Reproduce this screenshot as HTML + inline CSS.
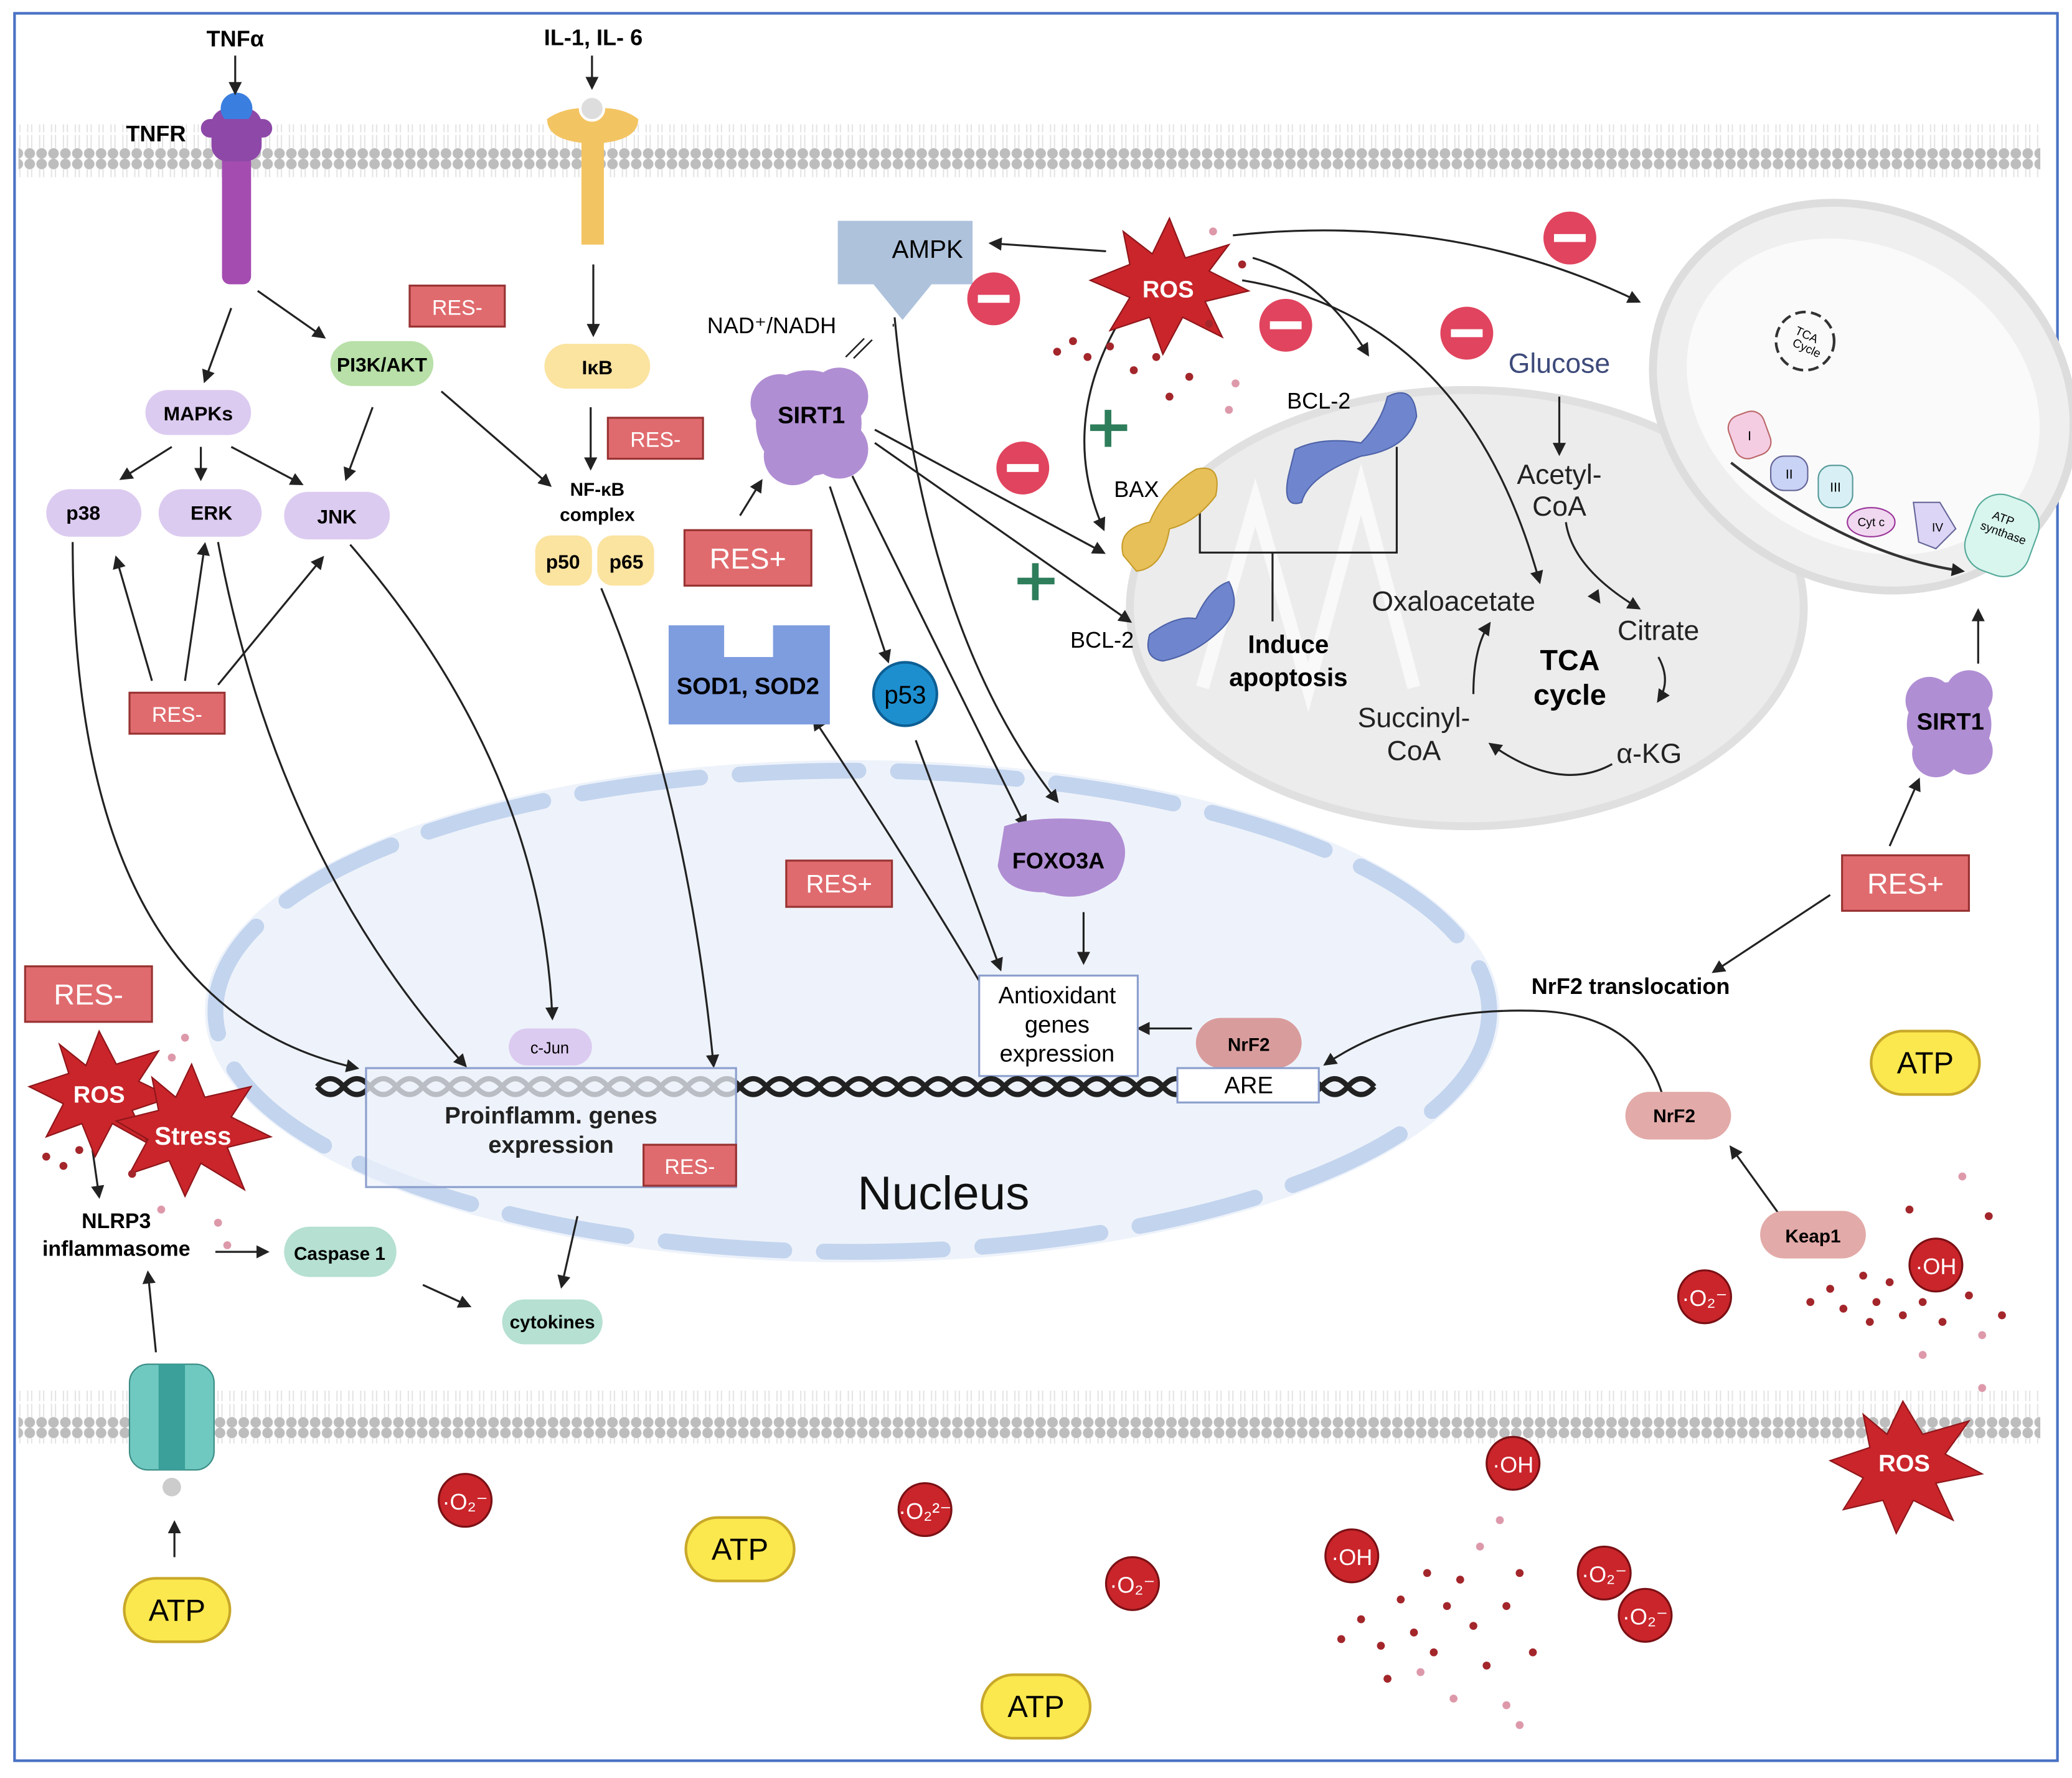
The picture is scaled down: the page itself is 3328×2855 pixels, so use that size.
<!DOCTYPE html>
<html><head><meta charset="utf-8"><style>
html,body{margin:0;padding:0;background:#fff}
svg{display:block}
text{font-family:"Liberation Sans",sans-serif}
</style></head><body>
<svg width="3328" height="2855" viewBox="0 0 1568 1345" xmlns="http://www.w3.org/2000/svg">
<defs>
<marker id="a" markerWidth="10" markerHeight="10" refX="8" refY="5" orient="auto" markerUnits="userSpaceOnUse"><path d="M0,0 L10,5 L0,10 z" fill="#222"/></marker>
<pattern id="mem" width="9" height="40" patternUnits="userSpaceOnUse"><circle cx="4.5" cy="4" r="4" fill="#bdbdbd"/><circle cx="4.5" cy="36" r="4" fill="#bdbdbd"/><path d="M3,8 L3,20 M6,8 L6,20 M3,22 L3,32 M6,22 L6,32" stroke="#e4e4e4" stroke-width="1"/></pattern>
</defs>
<rect width="1568" height="1345" fill="#fff"/>
<rect x="11" y="10" width="1546" height="1322" fill="none" stroke="#4a72c4" stroke-width="2"/>
<!-- membranes -->
<rect x="14" y="94" width="1530" height="40" fill="url(#mem)"/>
<rect x="14" y="1052" width="1530" height="40" fill="url(#mem)"/>
<!-- nucleus -->
<ellipse cx="645" cy="765" rx="490" ry="190" fill="#eef3fb"/>
<ellipse cx="645" cy="765" rx="482" ry="182" fill="none" stroke="#c3d4ee" stroke-width="12" stroke-dasharray="90,30" stroke-linecap="round"/>
<text x="714" y="915" font-size="36" text-anchor="middle" fill="#111">Nucleus</text>
<!-- mitochondria -->
<ellipse cx="1110" cy="460" rx="255" ry="165" fill="#ececec" stroke="#e0e0e0" stroke-width="6"/>
<path d="M910,520 L950,380 L990,520 L1030,370 L1070,520" fill="none" stroke="#fff" stroke-width="10" opacity="0.7"/>
<ellipse cx="1410" cy="300" rx="165" ry="140" fill="#efefef" stroke="#ddd" stroke-width="6" transform="rotate(30 1410 300)"/>
<ellipse cx="1410" cy="300" rx="140" ry="112" fill="#fafafa" transform="rotate(30 1410 300)"/>
<circle cx="1366" cy="258" r="22" fill="none" stroke="#333" stroke-width="2" stroke-dasharray="8,4"/>
<text x="1366" y="256" font-size="9" text-anchor="middle" transform="rotate(25 1366 256)">TCA</text><text x="1366" y="266" font-size="9" text-anchor="middle" transform="rotate(25 1366 266)">Cycle</text>
<path d="M1310,350 Q1400,420 1485,432" fill="none" stroke="#333" stroke-width="2" marker-end="url(#a)"/>
<rect x="1310" y="312" width="28" height="34" rx="10" fill="#f4cde3" stroke="#b66" transform="rotate(-20 1324 329)"/><text x="1324" y="333" font-size="10" text-anchor="middle">I</text>
<rect x="1340" y="345" width="28" height="26" rx="10" fill="#c9d3f5" stroke="#669"/><text x="1354" y="362" font-size="10" text-anchor="middle">II</text>
<rect x="1376" y="352" width="26" height="32" rx="10" fill="#d8f0f5" stroke="#599"/><text x="1389" y="372" font-size="10" text-anchor="middle">III</text>
<ellipse cx="1416" cy="395" rx="18" ry="11" fill="#f0d8f0" stroke="#939"/><text x="1416" y="398" font-size="9" text-anchor="middle">Cyt c</text>
<path d="M1448,380 L1468,380 L1480,400 L1465,415 L1452,410 z" fill="#dcd5f5" stroke="#669"/><text x="1462" y="402" font-size="9">IV</text>
<rect x="1490" y="375" width="50" height="60" rx="20" fill="#d8f5ee" stroke="#5a9" transform="rotate(20 1515 405)"/><text x="1515" y="395" font-size="9" text-anchor="middle" transform="rotate(20 1515 395)">ATP</text><text x="1515" y="406" font-size="9" text-anchor="middle" transform="rotate(20 1515 406)">synthase</text>
<!-- TNFR receptor -->
<g>
<rect x="168" y="100" width="22" height="115" rx="6" fill="#a44cb0"/>
<rect x="160" y="82" width="38" height="40" rx="12" fill="#8e48a8"/>
<circle cx="179" cy="82" r="12" fill="#3a7ee0"/>
<rect x="152" y="90" width="54" height="14" rx="7" fill="#8e48a8"/>
</g>
<text x="178" y="35" font-size="17" font-weight="bold" text-anchor="middle">TNFα</text>
<text x="118" y="107" font-size="17" font-weight="bold" text-anchor="middle">TNFR</text>
<line x1="178" y1="42" x2="178" y2="70" stroke="#222" stroke-width="1.5" marker-end="url(#a)"/>
<!-- IL receptor -->
<path d="M414,90 Q414,105 440,108 L440,185 L457,185 L457,108 Q483,105 483,90 Q470,80 449,82 Q428,80 414,90 z" fill="#f3c462"/>
<circle cx="448" cy="82" r="9" fill="#ddd" stroke="#fff" stroke-width="2"/>
<text x="449" y="34" font-size="17" font-weight="bold" text-anchor="middle">IL-1, IL- 6</text>
<line x1="448" y1="42" x2="448" y2="66" stroke="#222" stroke-width="1.5" marker-end="url(#a)"/>
<!-- arrows (general) -->
<g stroke="#222" stroke-width="1.5" fill="none" marker-end="url(#a)">
<line x1="175" y1="233" x2="155" y2="288"/>
<line x1="195" y1="220" x2="245" y2="255"/>
<line x1="130" y1="338" x2="92" y2="362"/>
<line x1="152" y1="338" x2="152" y2="362"/>
<line x1="175" y1="338" x2="228" y2="366"/>
<line x1="282" y1="308" x2="262" y2="362"/>
<line x1="334" y1="296" x2="416" y2="367"/>
<line x1="449" y1="200" x2="449" y2="253"/>
<line x1="447" y1="308" x2="447" y2="354"/>
<line x1="115" y1="515" x2="88" y2="422"/>
<line x1="140" y1="515" x2="155" y2="412"/>
<line x1="165" y1="518" x2="244" y2="422"/>
<path d="M55,410 Q55,760 270,808"/>
<path d="M165,410 Q210,650 352,806"/>
<path d="M265,412 Q410,580 418,770"/>
<path d="M455,445 Q520,600 540,806"/>
<line x1="837" y1="190" x2="750" y2="184"/>
<line x1="560" y1="390" x2="576" y2="364"/>
<path d="M933,178 Q1100,160 1240,228"/>
<path d="M948,195 Q1000,210 1035,268"/>
<path d="M940,212 Q1110,240 1165,440"/>
<path d="M850,238 Q800,320 835,400"/>
<line x1="662" y1="325" x2="835" y2="418"/>
<line x1="662" y1="335" x2="855" y2="470"/>
<line x1="628" y1="368" x2="672" y2="500"/>
<line x1="645" y1="360" x2="776" y2="625"/>
<path d="M677,240 Q700,480 800,606"/>
<line x1="820" y1="690" x2="820" y2="728"/>
<line x1="693" y1="560" x2="757" y2="733"/>
<path d="M741,742 Q680,640 616,544"/>
<line x1="902" y1="778" x2="862" y2="778"/>
<line x1="1180" y1="300" x2="1180" y2="343"/>
<path d="M1185,395 Q1190,430 1240,460"/>
<path d="M1255,497 Q1265,515 1255,530"/>
<path d="M1220,578 Q1180,600 1128,563"/>
<path d="M1115,525 Q1115,490 1127,472"/>
<path d="M1175,440 Q1200,440 1210,455" stroke="none"/>
<line x1="1430" y1="640" x2="1452" y2="590"/>
<line x1="1497" y1="502" x2="1497" y2="462"/>
<line x1="1385" y1="677" x2="1297" y2="735"/>
<path d="M1258,828 Q1240,770 1170,765 Q1070,760 1003,805"/>
<line x1="1346" y1="918" x2="1310" y2="868"/>
<line x1="118" y1="1023" x2="112" y2="963"/>
<line x1="132" y1="1178" x2="132" y2="1152"/>
<line x1="163" y1="947" x2="202" y2="947"/>
<line x1="320" y1="972" x2="355" y2="988"/>
<line x1="437" y1="920" x2="425" y2="973"/>
<line x1="70" y1="870" x2="75" y2="905"/>
</g>
<!-- BAX/BCL connectors -->
<path d="M908,380 L908,418 L1057,418 L1057,338 M963,418 L963,470" fill="none" stroke="#222" stroke-width="1.5"/>
<line x1="676" y1="245" x2="676" y2="247" stroke="#222"/>
<path d="M640,270 L654,256 M646,271 L660,257" stroke="#222" stroke-width="1.2"/>
<!-- nodes -->
<g font-weight="bold" font-size="15" text-anchor="middle">
<rect x="250" y="258" width="78" height="34" rx="17" fill="#b8e0a8"/><text x="289" y="281">PI3K/AKT</text>
<rect x="110" y="295" width="80" height="34" rx="17" fill="#dccbf0"/><text x="150" y="318">MAPKs</text>
<rect x="35" y="370" width="72" height="36" rx="18" fill="#dccbf0"/><text x="63" y="393">p38</text>
<rect x="120" y="370" width="78" height="36" rx="18" fill="#dccbf0"/><text x="160" y="393">ERK</text>
<rect x="215" y="372" width="80" height="36" rx="18" fill="#dccbf0"/><text x="255" y="396">JNK</text>
<rect x="412" y="260" width="80" height="34" rx="17" fill="#fbe3a0"/><text x="452" y="283">IκB</text>
<text x="452" y="375" font-size="14">NF-κB</text><text x="452" y="394" font-size="14">complex</text>
<rect x="405" y="405" width="43" height="38" rx="12" fill="#fbe3a0"/><text x="426" y="430">p50</text>
<rect x="452" y="405" width="43" height="38" rx="12" fill="#fbe3a0"/><text x="474" y="430">p65</text>
<rect x="385" y="778" width="63" height="28" rx="14" fill="#dccbf0"/><text x="416" y="797" font-size="12" font-weight="normal">c-Jun</text>
<rect x="215" y="928" width="85" height="38" rx="19" fill="#b5e0d2"/><text x="257" y="953" font-size="14">Caspase 1</text>
<rect x="380" y="983" width="76" height="34" rx="17" fill="#b5e0d2"/><text x="418" y="1005" font-size="14">cytokines</text>
<rect x="905" y="770" width="80" height="38" rx="19" fill="#d99c9c"/><text x="945" y="795" font-size="14">NrF2</text>
<rect x="1230" y="826" width="80" height="36" rx="18" fill="#e2aaa8"/><text x="1267" y="849" font-size="14">NrF2</text>
<rect x="1332" y="916" width="80" height="36" rx="18" fill="#e2aaa8"/><text x="1372" y="940" font-size="14">Keap1</text>
<text x="88" y="929" font-size="16">NLRP3</text><text x="88" y="950" font-size="16">inflammasome</text>
<text x="1234" y="752" font-size="17">NrF2 translocation</text>
</g>
<!-- RES boxes -->
<g font-size="16" fill="#fff" text-anchor="middle">
<rect x="310" y="216" width="72" height="31" fill="#e06b6e" stroke="#933" stroke-width="1.5"/><text x="346" y="238">RES-</text>
<rect x="460" y="316" width="72" height="31" fill="#e06b6e" stroke="#933" stroke-width="1.5"/><text x="496" y="338">RES-</text>
<rect x="98" y="524" width="72" height="31" fill="#e06b6e" stroke="#933" stroke-width="1.5"/><text x="134" y="546">RES-</text>
<rect x="487" y="866" width="70" height="31" fill="#e06b6e" stroke="#933" stroke-width="1.5"/><text x="522" y="888">RES-</text>
<rect x="19" y="731" width="96" height="42" fill="#e06b6e" stroke="#933" stroke-width="1.5"/><text x="67" y="760" font-size="22">RES-</text>
<rect x="518" y="401" width="96" height="42" fill="#e06b6e" stroke="#933" stroke-width="1.5"/><text x="566" y="430" font-size="22">RES+</text>
<rect x="595" y="651" width="80" height="35" fill="#e06b6e" stroke="#933" stroke-width="1.5"/><text x="635" y="675" font-size="19">RES+</text>
<rect x="1394" y="647" width="96" height="42" fill="#e06b6e" stroke="#933" stroke-width="1.5"/><text x="1442" y="676" font-size="22">RES+</text>
</g>
<!-- AMPK -->
<path d="M634,167 L736,167 L736,215 L705,215 L683,242 L661,215 L634,215 z" fill="#aec2dc"/>
<text x="675" y="195" font-size="19">AMPK</text>
<text x="584" y="252" font-size="17" text-anchor="middle">NAD⁺/NADH</text>
<!-- SIRT1 blobs -->
<g fill="#b08ed3">
<circle cx="612" cy="320" r="40"/><circle cx="590" cy="305" r="22"/><circle cx="635" cy="300" r="22"/><circle cx="600" cy="345" r="22"/><circle cx="635" cy="340" r="22"/>
<circle cx="1475" cy="548" r="32"/><circle cx="1460" cy="530" r="18"/><circle cx="1490" cy="525" r="18"/><circle cx="1465" cy="570" r="18"/><circle cx="1490" cy="568" r="18"/>
</g>
<text x="614" y="320" font-size="18" font-weight="bold" text-anchor="middle">SIRT1</text>
<text x="1476" y="552" font-size="18" font-weight="bold" text-anchor="middle">SIRT1</text>
<!-- SOD -->
<path d="M506,473 L548,473 L548,497 L585,497 L585,473 L628,473 L628,548 L506,548 z" fill="#7e9ddf"/>
<text x="566" y="525" font-size="18" font-weight="bold" text-anchor="middle">SOD1, SOD2</text>
<!-- p53 -->
<circle cx="685" cy="525" r="24" fill="#1d8fcf" stroke="#0d5f94" stroke-width="2"/>
<text x="685" y="532" font-size="19" text-anchor="middle">p53</text>
<!-- FOXO3A -->
<path d="M760,625 Q790,615 840,622 Q860,640 845,665 Q820,685 790,675 Q760,675 755,655 z" fill="#b08ed3"/>
<text x="801" y="657" font-size="17" font-weight="bold" text-anchor="middle">FOXO3A</text>
<!-- Antioxidant box -->
<rect x="741" y="738" width="120" height="76" fill="#fff" stroke="#8c9fcd" stroke-width="1.5"/>
<text x="800" y="759" font-size="18" text-anchor="middle">Antioxidant</text><text x="800" y="781" font-size="18" text-anchor="middle">genes</text><text x="800" y="803" font-size="18" text-anchor="middle">expression</text>
<!-- DNA -->
<path d="M240,822 q10,-12 20,0 q10,12 20,0 q10,-12 20,0 q10,12 20,0 q10,-12 20,0 q10,12 20,0 q10,-12 20,0 q10,12 20,0 q10,-12 20,0 q10,12 20,0 q10,-12 20,0 q10,12 20,0 q10,-12 20,0 q10,12 20,0 q10,-12 20,0 q10,12 20,0 q10,-12 20,0 q10,12 20,0 q10,-12 20,0 q10,12 20,0 q10,-12 20,0 q10,12 20,0 q10,-12 20,0 q10,12 20,0 q10,-12 20,0 q10,12 20,0 q10,-12 20,0 q10,12 20,0 q10,-12 20,0 q10,12 20,0 q10,-12 20,0 q10,12 20,0 q10,-12 20,0 q10,12 20,0 q10,-12 20,0 q10,12 20,0 q10,-12 20,0 q10,12 20,0 q10,-12 20,0 q10,12 20,0" fill="none" stroke="#222" stroke-width="4"/>
<path d="M240,822 q10,12 20,0 q10,-12 20,0 q10,12 20,0 q10,-12 20,0 q10,12 20,0 q10,-12 20,0 q10,12 20,0 q10,-12 20,0 q10,12 20,0 q10,-12 20,0 q10,12 20,0 q10,-12 20,0 q10,12 20,0 q10,-12 20,0 q10,12 20,0 q10,-12 20,0 q10,12 20,0 q10,-12 20,0 q10,12 20,0 q10,-12 20,0 q10,12 20,0 q10,-12 20,0 q10,12 20,0 q10,-12 20,0 q10,12 20,0 q10,-12 20,0 q10,12 20,0 q10,-12 20,0 q10,12 20,0 q10,-12 20,0 q10,12 20,0 q10,-12 20,0 q10,12 20,0 q10,-12 20,0 q10,12 20,0 q10,-12 20,0 q10,12 20,0 q10,-12 20,0 q10,12 20,0 q10,-12 20,0" fill="none" stroke="#222" stroke-width="4"/>
<rect x="277" y="808" width="280" height="90" fill="#eef3fb" fill-opacity="0.75" stroke="#8c9fcd" stroke-width="1.5"/>
<text x="417" y="850" font-size="18" font-weight="bold" text-anchor="middle" fill="#222">Proinflamm. genes</text>
<text x="417" y="872" font-size="18" font-weight="bold" text-anchor="middle" fill="#222">expression</text>
<rect x="487" y="866" width="70" height="31" fill="#e06b6e" stroke="#933" stroke-width="1.5"/><text x="522" y="888" font-size="16" fill="#fff" text-anchor="middle">RES-</text>
<rect x="891" y="808" width="107" height="26" fill="#fff" stroke="#8c9fcd" stroke-width="1.5"/>
<text x="945" y="827" font-size="18" text-anchor="middle">ARE</text>
<!-- ROS stars -->
<g fill="#c9252b" stroke="#8e1519" stroke-width="1">
<polygon points="885,165 897,195 930,185 915,205 945,220 912,228 925,255 895,240 880,268 870,240 840,250 855,225 825,212 855,200 850,175 872,192"/>
<polygon points="75,780 88,805 120,795 105,818 130,830 100,840 112,865 85,850 72,875 62,850 35,860 48,835 22,822 52,812 45,790 65,806"/>
<polygon points="145,805 155,830 190,822 175,845 205,860 172,868 185,900 152,880 140,905 128,878 98,888 112,862 88,848 120,840 115,815 133,830"/>
<polygon points="1440,1060 1455,1085 1490,1075 1472,1100 1500,1115 1465,1122 1478,1150 1448,1135 1435,1160 1425,1135 1395,1142 1410,1118 1385,1105 1415,1095 1410,1070 1428,1085"/>
</g>
<g fill="#fff" font-weight="bold" text-anchor="middle" font-size="18">
<text x="884" y="225">ROS</text><text x="75" y="834">ROS</text><text x="146" y="866" font-size="19">Stress</text><text x="1441" y="1113">ROS</text>
</g>
<!-- dots -->
<g fill="#a3262b">
<circle cx="800" cy="266" r="3"/><circle cx="812" cy="258" r="3"/><circle cx="823" cy="270" r="3"/><circle cx="840" cy="262" r="3"/><circle cx="858" cy="280" r="3"/><circle cx="875" cy="270" r="3"/><circle cx="900" cy="285" r="3"/><circle cx="885" cy="300" r="3"/><circle cx="915" cy="245" r="3"/><circle cx="935" cy="290" r="3" fill="#d9a"/><circle cx="930" cy="310" r="3" fill="#d9a"/><circle cx="940" cy="200" r="3"/><circle cx="918" cy="175" r="3" fill="#d9a"/>
<circle cx="35" cy="875" r="3"/><circle cx="48" cy="882" r="3"/><circle cx="60" cy="870" r="3"/><circle cx="100" cy="888" r="3"/><circle cx="130" cy="800" r="3" fill="#d9a"/><circle cx="140" cy="785" r="3" fill="#d9a"/><circle cx="165" cy="925" r="3" fill="#d9a"/><circle cx="172" cy="942" r="3" fill="#d9a"/><circle cx="122" cy="915" r="3" fill="#d9a"/>
<circle cx="1370" cy="985" r="3"/><circle cx="1385" cy="975" r="3"/><circle cx="1395" cy="990" r="3"/><circle cx="1410" cy="965" r="3"/><circle cx="1420" cy="985" r="3"/><circle cx="1415" cy="1000" r="3"/><circle cx="1430" cy="970" r="3"/><circle cx="1440" cy="995" r="3"/><circle cx="1455" cy="985" r="3"/><circle cx="1470" cy="1000" r="3"/><circle cx="1490" cy="980" r="3"/><circle cx="1505" cy="920" r="3"/><circle cx="1515" cy="995" r="3"/><circle cx="1445" cy="915" r="3"/><circle cx="1485" cy="890" r="3" fill="#d9a"/><circle cx="1500" cy="1010" r="3" fill="#d9a"/><circle cx="1500" cy="1050" r="3" fill="#d9a"/><circle cx="1455" cy="1025" r="3" fill="#d9a"/>
<circle cx="1015" cy="1240" r="3"/><circle cx="1030" cy="1225" r="3"/><circle cx="1045" cy="1245" r="3"/><circle cx="1060" cy="1210" r="3"/><circle cx="1070" cy="1235" r="3"/><circle cx="1085" cy="1250" r="3"/><circle cx="1095" cy="1215" r="3"/><circle cx="1105" cy="1195" r="3"/><circle cx="1115" cy="1230" r="3"/><circle cx="1125" cy="1260" r="3"/><circle cx="1140" cy="1215" r="3"/><circle cx="1150" cy="1190" r="3"/><circle cx="1160" cy="1250" r="3"/><circle cx="1080" cy="1190" r="3"/><circle cx="1050" cy="1270" r="3"/><circle cx="1120" cy="1170" r="3" fill="#d9a"/><circle cx="1135" cy="1150" r="3" fill="#d9a"/><circle cx="1100" cy="1285" r="3" fill="#d9a"/><circle cx="1140" cy="1290" r="3" fill="#d9a"/><circle cx="1150" cy="1305" r="3" fill="#d9a"/><circle cx="1075" cy="1265" r="3" fill="#d9a"/>
</g>
<!-- radicals -->
<g fill="#c9252b" stroke="#7a1014" stroke-width="1.5">
<circle cx="1290" cy="981" r="20"/><circle cx="1465" cy="957" r="20"/><circle cx="352" cy="1135" r="20"/><circle cx="700" cy="1142" r="20"/><circle cx="857" cy="1198" r="20"/><circle cx="1145" cy="1107" r="20"/><circle cx="1023" cy="1177" r="20"/><circle cx="1214" cy="1190" r="20"/><circle cx="1245" cy="1222" r="20"/>
</g>
<g fill="#fff" font-size="17" text-anchor="middle">
<text x="1290" y="988">·O₂⁻</text><text x="1465" y="964">·OH</text><text x="352" y="1142">·O₂⁻</text><text x="700" y="1149">·O₂²⁻</text><text x="857" y="1205">·O₂⁻</text><text x="1145" y="1114">·OH</text><text x="1023" y="1184">·OH</text><text x="1214" y="1197">·O₂⁻</text><text x="1245" y="1229">·O₂⁻</text>
</g>
<!-- ATP -->
<g fill="#fbe84e" stroke="#c8a82a" stroke-width="2">
<rect x="94" y="1194" width="80" height="48" rx="24"/><rect x="519" y="1148" width="82" height="48" rx="24"/><rect x="743" y="1267" width="82" height="48" rx="24"/><rect x="1416" y="780" width="82" height="48" rx="24"/>
</g>
<g font-size="23" text-anchor="middle"><text x="134" y="1226">ATP</text><text x="560" y="1180">ATP</text><text x="784" y="1299">ATP</text><text x="1457" y="812">ATP</text></g>
<!-- channel -->
<rect x="98" y="1032" width="64" height="80" rx="14" fill="#6fc9c0" stroke="#3a8c85"/>
<rect x="120" y="1032" width="20" height="80" fill="#3aa099"/>
<circle cx="130" cy="1125" r="7" fill="#ccc"/>
<!-- minus signs -->
<g fill="#e0445e"><circle cx="752" cy="226" r="20"/><circle cx="973" cy="246" r="20"/><circle cx="1188" cy="180" r="20"/><circle cx="1110" cy="252" r="20"/><circle cx="774" cy="354" r="20"/></g>
<g fill="#fff"><rect x="740" y="223" width="24" height="6"/><rect x="961" y="243" width="24" height="6"/><rect x="1176" y="177" width="24" height="6"/><rect x="1098" y="249" width="24" height="6"/><rect x="762" y="351" width="24" height="6"/></g>
<!-- plus -->
<g fill="#2e7d5b"><rect x="825" y="321" width="28" height="5"/><rect x="836" y="310" width="5" height="28"/><rect x="770" y="437" width="28" height="5"/><rect x="781" y="426" width="5" height="28"/></g>
<!-- BAX/BCL proteins -->
<path d="M850,420 Q845,400 870,395 Q880,370 905,355 Q925,350 920,375 Q905,395 885,400 Q880,430 860,432 z" fill="#e8c05a" stroke="#c69c2a"/>
<path d="M980,340 Q1000,330 1030,335 Q1045,320 1050,300 Q1070,290 1072,315 Q1065,340 1030,345 Q990,360 985,380 Q970,385 975,360 z" fill="#6f86cf" stroke="#4d62a8"/>
<path d="M870,480 Q890,465 905,468 Q915,445 930,440 Q940,460 925,475 Q905,495 880,500 Q865,498 870,480 z" fill="#6f86cf" stroke="#4d62a8"/>
<text x="860" y="376" font-size="17" text-anchor="middle">BAX</text>
<text x="998" y="309" font-size="17" text-anchor="middle">BCL-2</text>
<text x="834" y="490" font-size="17" text-anchor="middle">BCL-2</text>
<text x="975" y="494" font-size="19" font-weight="bold" text-anchor="middle">Induce</text>
<text x="975" y="519" font-size="19" font-weight="bold" text-anchor="middle">apoptosis</text>
<!-- TCA -->
<text x="1180" y="282" font-size="21" fill="#3d4a7a" text-anchor="middle">Glucose</text>
<text x="1180" y="366" font-size="21" text-anchor="middle" fill="#222">Acetyl-</text><text x="1180" y="390" font-size="21" text-anchor="middle" fill="#222">CoA</text>
<text x="1100" y="462" font-size="21" text-anchor="middle" fill="#222">Oxaloacetate</text>
<text x="1255" y="484" font-size="21" text-anchor="middle" fill="#222">Citrate</text>
<text x="1188" y="507" font-size="22" font-weight="bold" text-anchor="middle">TCA</text><text x="1188" y="533" font-size="22" font-weight="bold" text-anchor="middle">cycle</text>
<text x="1070" y="550" font-size="21" text-anchor="middle" fill="#222">Succinyl-</text><text x="1070" y="575" font-size="21" text-anchor="middle" fill="#222">CoA</text>
<text x="1248" y="577" font-size="21" text-anchor="middle" fill="#222">α-KG</text>
</svg>
</body></html>
